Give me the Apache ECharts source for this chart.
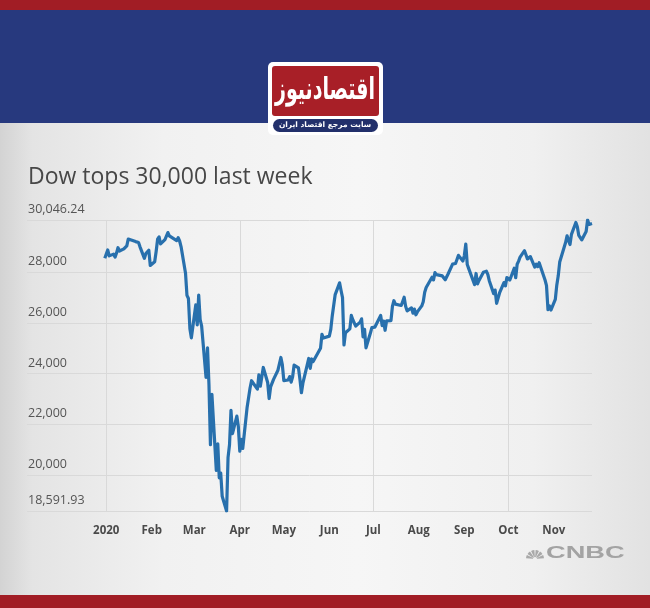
<!DOCTYPE html>
<html><head><meta charset="utf-8">
<script src="https://cdn.jsdelivr.net/npm/echarts@6/dist/echarts.min.js"></script>
<style>
html,body{margin:0;padding:0;}
body{width:650px;height:608px;overflow:hidden;background:linear-gradient(90deg,#d3d3d3 0%,#e4e4e4 5%,#f1f1f1 25%,#f6f6f6 55%,#f0f0f0 82%,#e2e2e2 100%);}
#c{width:650px;height:608px;}
</style></head><body><div id="c"></div>
<script>
const axisStart = '2019-11-08';
const axisEnd = '2020-11-27';

const tradeDates = [
'2019-12-31',
'2020-01-02','2020-01-03','2020-01-06','2020-01-07','2020-01-08','2020-01-09','2020-01-10','2020-01-13','2020-01-14','2020-01-15','2020-01-16','2020-01-17','2020-01-21','2020-01-22','2020-01-23','2020-01-24','2020-01-27','2020-01-28','2020-01-29','2020-01-30','2020-01-31',
'2020-02-03','2020-02-04','2020-02-05','2020-02-06','2020-02-07','2020-02-10','2020-02-11','2020-02-12','2020-02-13','2020-02-14','2020-02-18','2020-02-19','2020-02-20','2020-02-21','2020-02-24','2020-02-25','2020-02-26','2020-02-27','2020-02-28',
'2020-03-02','2020-03-03','2020-03-04','2020-03-05','2020-03-06','2020-03-09','2020-03-10','2020-03-11','2020-03-12','2020-03-13','2020-03-16','2020-03-17','2020-03-18','2020-03-19','2020-03-20','2020-03-23','2020-03-24','2020-03-25','2020-03-26','2020-03-27','2020-03-30','2020-03-31',
'2020-04-01','2020-04-02','2020-04-03','2020-04-06','2020-04-07','2020-04-08','2020-04-09','2020-04-13','2020-04-14','2020-04-15','2020-04-16','2020-04-17','2020-04-20','2020-04-21','2020-04-22','2020-04-23','2020-04-24','2020-04-27','2020-04-28','2020-04-29','2020-04-30',
'2020-05-01','2020-05-04','2020-05-05','2020-05-06','2020-05-07','2020-05-08','2020-05-11','2020-05-12','2020-05-13','2020-05-14','2020-05-15','2020-05-18','2020-05-19','2020-05-20','2020-05-21','2020-05-22','2020-05-26','2020-05-27','2020-05-28','2020-05-29',
'2020-06-01','2020-06-02','2020-06-03','2020-06-04','2020-06-05','2020-06-08','2020-06-09','2020-06-10','2020-06-11','2020-06-12','2020-06-15','2020-06-16','2020-06-17','2020-06-18','2020-06-19','2020-06-22','2020-06-23','2020-06-24','2020-06-25','2020-06-26','2020-06-29','2020-06-30',
'2020-07-01','2020-07-02','2020-07-06','2020-07-07','2020-07-08','2020-07-09','2020-07-10','2020-07-13','2020-07-14','2020-07-15','2020-07-16','2020-07-17','2020-07-20','2020-07-21','2020-07-22','2020-07-23','2020-07-24','2020-07-27','2020-07-28','2020-07-29','2020-07-30','2020-07-31',
'2020-08-03','2020-08-04','2020-08-05','2020-08-06','2020-08-07','2020-08-10','2020-08-11','2020-08-12','2020-08-13','2020-08-14','2020-08-17','2020-08-18','2020-08-19','2020-08-20','2020-08-21','2020-08-24','2020-08-25','2020-08-26','2020-08-27','2020-08-28','2020-08-31',
'2020-09-01','2020-09-02','2020-09-03','2020-09-04','2020-09-08','2020-09-09','2020-09-10','2020-09-11','2020-09-14','2020-09-15','2020-09-16','2020-09-17','2020-09-18','2020-09-21','2020-09-22','2020-09-23','2020-09-24','2020-09-25','2020-09-28','2020-09-29','2020-09-30',
'2020-10-01','2020-10-02','2020-10-05','2020-10-06','2020-10-07','2020-10-08','2020-10-09','2020-10-12','2020-10-13','2020-10-14','2020-10-15','2020-10-16','2020-10-19','2020-10-20','2020-10-21','2020-10-22','2020-10-23','2020-10-26','2020-10-27','2020-10-28','2020-10-29','2020-10-30',
'2020-11-02','2020-11-03','2020-11-04','2020-11-05','2020-11-06','2020-11-09','2020-11-10','2020-11-11','2020-11-12','2020-11-13','2020-11-16','2020-11-17','2020-11-18','2020-11-19','2020-11-20','2020-11-23','2020-11-24','2020-11-25','2020-11-27'
];

const dowClose = [
28538,
28868,28634,28703,28583,28745,28957,28824,28908,28940,29030,29297,29348,29196,29186,29160,28990,28536,28723,28734,28859,28256,
28400,28807,29290,29380,29103,29276,29276,29551,29423,29398,29232,29348,29219,28992,27961,27081,26957,25766,25409,
26703,25917,27091,26121,25865,23851,25018,23553,21200,23186,20189,21237,19899,20087,19174,18591.93,20705,21201,22552,21637,22327,21917,
20944,21413,21053,22680,22654,23434,23719,23390,23950,23504,23538,24242,23650,23019,23475,23516,23775,24134,24102,24634,24346,
23724,23750,23883,23664,23876,24331,24222,23765,23248,23625,23685,24597,24207,24576,24474,24465,24995,25548,25401,25383,
25475,25742,26270,26282,27111,27572,27272,26990,25128,25606,25763,26290,26120,26080,25871,26025,26156,25446,25746,25016,25596,25813,
25735,25827,26287,25891,26067,25706,26075,26086,26643,26870,26735,26672,26681,26841,27006,26653,26470,26585,26379,26540,26314,26428,
26664,26828,27202,27387,27433,27791,27687,27977,27897,27931,27845,27779,27693,27740,27930,28308,28249,28332,28493,28654,28430,
28646,29101,28293,28133,27501,27941,27535,27666,27993,27996,28032,27902,27657,27148,27288,26763,26815,27174,27584,27453,27782,
27817,27683,28149,27773,28303,28426,28587,28838,28680,28515,28494,28606,28195,28309,28211,28364,28336,27685,27464,26520,26660,26502,
26925,27481,27848,28390,28323,29158,29421,29398,29080,29480,29950,29784,29438,29483,29263,29592,30046.24,29873,29910
];

const monthStarts = ['2020-01-01','2020-02-01','2020-03-01','2020-04-01','2020-05-01','2020-06-01','2020-07-01','2020-08-01','2020-09-01','2020-10-01','2020-11-01'];
const monthLabels = ['2020','Feb','Mar','Apr','May','Jun','Jul','Aug','Sep','Oct','Nov'];
const quarterLines = ['2020-01-01','2020-04-01','2020-07-01','2020-10-01'];
const yTicks = [18591.93, 20000, 22000, 24000, 26000, 28000, 30046.24];
const yTickLabels = ['18,591.93','20,000','22,000','24,000','26,000','28,000','30,046.24'];

const titleText = 'Dow tops 30,000 last week';
const logoText = 'اقتصادنیوز';
const logoSub = 'سایت مرجع اقتصاد ایران';
const sourceText = 'CNBC';

// calendar-day categories for the x axis
const days = [];
const [sy, sm, sd] = axisStart.split('-').map(Number);
const [ey, em, ed] = axisEnd.split('-').map(Number);
for (let t = Date.UTC(sy, sm - 1, sd); t <= Date.UTC(ey, em - 1, ed); t += 86400000) {
  days.push(new Date(t).toISOString().slice(0, 10));
}

const chart = echarts.init(document.getElementById('c'));

const peacock = [];
for (let k = 0; k < 6; k++) {
  const a0 = Math.PI + k * Math.PI / 6 + 0.07;
  const a1 = Math.PI + (k + 1) * Math.PI / 6 - 0.07;
  peacock.push({
    type: 'sector', silent: true,
    shape: { cx: 535, cy: 559, r0: 2, r: 9, startAngle: a0, endAngle: a1 },
    style: { fill: '#a9a9a9' }
  });
}

chart.setOption({
  backgroundColor: 'transparent',
  animation: false,
  grid: { left: 27, right: 58, top: 220, bottom: 97, containLabel: false, outerBoundsMode: 'none' },
  xAxis: {
    type: 'category',
    data: days,
    boundaryGap: false,
    axisLine: { show: false },
    axisTick: { show: false },
    axisLabel: {
      interval: function (i, v) { return monthStarts.indexOf(v) >= 0; },
      formatter: function (v) { const i = monthStarts.indexOf(v); return i >= 0 ? monthLabels[i] : ''; },
      color: '#4a4a4a', fontSize: 11.5, fontWeight: 'bold', fontFamily: 'Open Sans', margin: 14
    },
    splitLine: {
      show: true,
      interval: function (i, v) { return quarterLines.indexOf(v) >= 0; },
      lineStyle: { color: '#d9d9d9', width: 1 }
    }
  },
  yAxis: {
    type: 'value',
    min: yTicks[0],
    max: yTicks[yTicks.length - 1],
    axisLine: { show: false },
    axisTick: { show: false },
    splitLine: { show: false },
    axisLabel: {
      inside: true,
      customValues: yTicks,
      formatter: function (v) {
        for (let i = 0; i < yTicks.length; i++) if (Math.abs(v - yTicks[i]) < 0.01) return yTickLabels[i];
        return '';
      },
      verticalAlign: 'bottom',
      align: 'left',
      margin: 1,
      padding: [0, 0, 4, 0],
      color: '#555555', fontSize: 12.5, fontFamily: 'Open Sans'
    }
  },
  series: [
    {
      type: 'line', data: [], z: 1, silent: true,
      markLine: {
        silent: true, symbol: ['none', 'none'], animation: false,
        label: { show: false },
        lineStyle: { color: '#d9d9d9', width: 1, type: 'solid' },
        data: yTicks.map(v => ({ yAxis: v }))
      }
    },
    {
      type: 'line', z: 5,
      data: tradeDates.map((d, i) => [d, dowClose[i]]),
      showSymbol: false,
      lineStyle: { color: '#2870ad', width: 3.2, join: 'round' }
    }
  ],
  graphic: [
    { type: 'rect', silent: true, shape: { x: 0, y: 0, width: 650, height: 10 }, style: { fill: '#a11d25' } },
    { type: 'rect', silent: true, shape: { x: 0, y: 10, width: 650, height: 113 }, style: { fill: '#27397e' } },
    { type: 'rect', silent: true, shape: { x: 0, y: 595, width: 650, height: 13 }, style: { fill: '#a11d25' } },
    { type: 'rect', silent: true, shape: { x: 268, y: 62, width: 115, height: 73, r: 5 }, style: { fill: '#ffffff' } },
    { type: 'rect', silent: true, shape: { x: 272, y: 66, width: 107, height: 50, r: 3 }, style: { fill: '#a81f27' } },
    { type: 'text', silent: true, x: 325, y: 91, scaleY: 1.6, originX: 0, originY: 0, style: { text: logoText, fill: '#ffffff', font: 'bold 19px "DejaVu Sans"', align: 'center', verticalAlign: 'middle' } },
    { type: 'rect', silent: true, shape: { x: 273, y: 119, width: 105, height: 13, r: 6.5 }, style: { fill: '#22306b' } },
    { type: 'text', silent: true, x: 325, y: 125.5, style: { text: logoSub, fill: '#ffffff', font: 'bold 7.5px "DejaVu Sans"', align: 'center', verticalAlign: 'middle' } },
    { type: 'text', silent: true, x: 28, y: 177, style: { text: titleText, fill: '#474747', font: '23px "Open Sans"', verticalAlign: 'middle' } },
    { type: 'text', silent: true, x: 546, y: 554, scaleX: 1.7, originX: 0, originY: 0, style: { text: sourceText, fill: '#a3a3a3', font: 'bold 16px "Liberation Sans"', verticalAlign: 'middle' } }
  ].concat(peacock)
});
</script>
</body></html>
